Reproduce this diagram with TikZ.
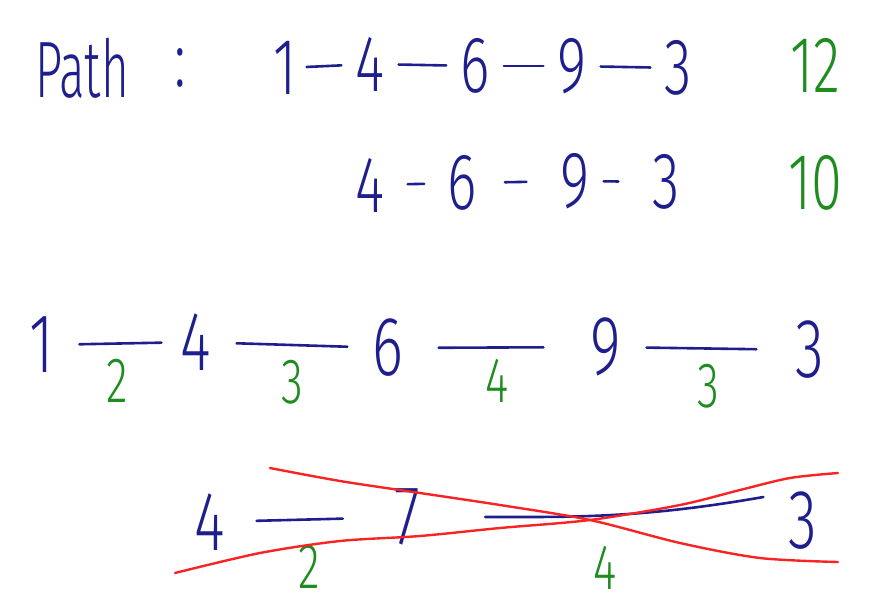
\documentclass[tikz,border=0pt]{standalone}
\usepackage{fontspec}
\setmainfont{Fira Sans Light}
\definecolor{ink}{RGB}{30,30,140}
\definecolor{mark}{RGB}{30,140,30}
\definecolor{strike}{RGB}{250,35,35}

\begin{document}
\begin{tikzpicture}[x=1pt, y=-1pt,
  num/.style={text=ink, font=\fontsize{84}{90}\selectfont, xscale=0.7, inner sep=0pt, inner xsep=36pt},
  seq/.style={num, font=\fontsize{80}{90}\selectfont, inner xsep=20pt},
  tot/.style={text=mark, font=\fontsize{80}{90}\selectfont, xscale=0.7, inner sep=0pt},
  lbl/.style={text=mark, font=\fontsize{64}{70}\selectfont, xscale=0.7, inner sep=0pt},
  conn/.style={draw=ink, line width=2.6pt, line cap=round},
  cross/.style={draw=strike, line width=2.4pt, line cap=round}]
\useasboundingbox (0,0) rectangle (884,608);

% first path
\node[seq, xscale=0.85] (P0) at (82,68) {Path};;
\node[seq] (P1) at (180,68) {:};
\node[seq] (P2) at (285,68) {1};
\node[seq] (P3) at (370,64) {4};;
\node[seq] (P4) at (475,66) {6};
\node[seq] (P5) at (572,66) {9};
\node[seq] (P6) at (678,68) {3};;
\node[tot] (P7) at (815,65) {12};
\path[conn]
(P2) edge[shorten <=-4pt] (P3)
(P3) edge (P4)
(P4) edge (P5)
(P5) edge (P6);

% second path
\node[seq] (Q1) at (370,185) {4};
\node[seq] (Q2) at (462,183) {6};;
\node[seq] (Q3) at (575,181) {9};
\node[seq] (Q4) at (666,182) {3};
\node[tot] (Q5) at (815,183) {10};;
\path[conn]
(Q1) edge[shorten <=9pt, shorten >=9pt] (Q2)
(Q2) edge[shorten <=14pt, shorten >=20pt] (Q3)
(Q3) edge[shorten >=20pt] (Q4);

% weights
\node[num] (R1) at (42,345) {1};
\node[num] (R2) at (196,342) {4};;
\node[num] (R3) at (388,348) {6};
\node[num] (R4) at (606,347) {9};
\node[num] (R5) at (810,350) {3};;
\path[conn]
(R1) edge[shorten >=-6pt] node[lbl, below=14pt] {2} (R2)
(R2) edge node[lbl, below=14pt] {3} (R3)
(R3) edge[shorten <=10pt, shorten >=22pt] node[lbl, below=10pt] {4} (R4)
(R4) edge[shorten >=14pt] node[lbl, below=14pt] {3} (R5);

% shortcut
\node[num] (S1) at (210,522) {4};
\node[num] (S2) at (407,517) {7};;
\node[num] (S3) at (803,521) {3};
\path[conn]
(S1) edge[shorten <=6pt, shorten >=26pt] node[lbl, below=24pt] {2} (S2)
(S2) edge[out=0, in=190, shorten <=40pt] node[lbl, below=30pt] {4} ([yshift=24pt]S3.west);
%(S2) edge (S3);
\draw[cross] plot[smooth] coordinates {(270,468) (340,481) (420,493) (500,505) (590,520) (680,543) (760,558) (838,562)};
\draw[cross] plot[smooth] coordinates {(175,573) (260,553) (340,541) (420,536) (500,528) (590,520) (680,505) (740,490) (790,478) (838,473)};
\end{tikzpicture}
\end{document}
